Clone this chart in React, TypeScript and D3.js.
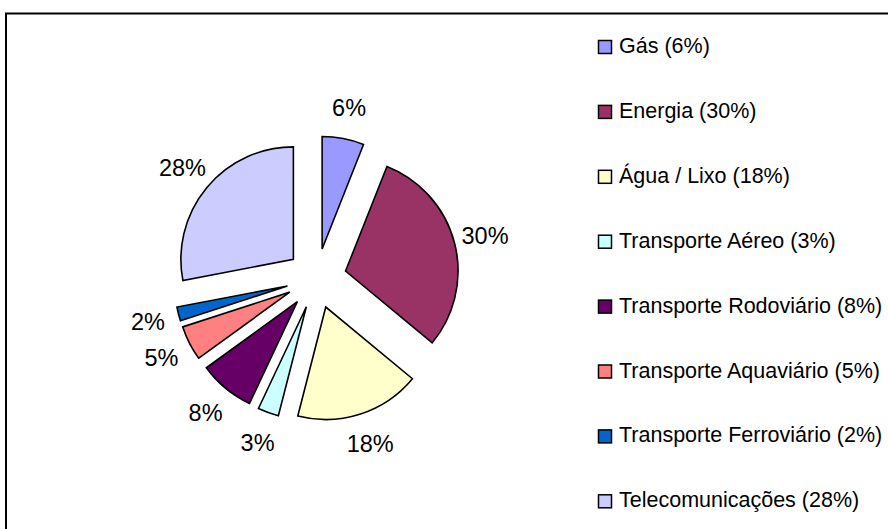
import React from "react";
import * as d3 from "d3";

const categories = [
  "Gás",
  "Energia",
  "Água / Lixo",
  "Transporte Aéreo",
  "Transporte Rodoviário",
  "Transporte Aquaviário",
  "Transporte Ferroviário",
  "Telecomunicações",
];
const values = [6, 30, 18, 3, 8, 5, 2, 28];
const colors = [
  "#9999FF",
  "#993366",
  "#FFFFCC",
  "#CCFFFF",
  "#660066",
  "#FF8080",
  "#0066CC",
  "#CCCCFF",
];

const W = 888;
const H = 529;
const cx = 316.5;
const cy = 278.5;
const radius = 112.5;
const explode = 30;
const labelR = 174;
const font = "Arial, 'Liberation Sans', sans-serif";

export default function App() {
  const total = d3.sum(values);
  const pie = d3
    .pie<number>()
    .sort(null)
    .value((d) => d)
    .startAngle(0)
    .endAngle(2 * Math.PI);
  const arcs = pie(values);
  const arcGen = d3.arc<d3.PieArcDatum<number>>().innerRadius(0).outerRadius(radius);

  const legendX = 598;
  const legendY0 = 53;
  const legendStep = 64.9;

  return (
    <svg
      width={W}
      height={H}
      style={{ position: "absolute", left: 0, top: 0, background: "#fff" }}
    >
      <rect x={0} y={0} width={W} height={H} fill="#fff" />
      <rect
        x={6}
        y={13.5}
        width={W + 20}
        height={H + 20}
        fill="none"
        stroke="#000"
        strokeWidth={2}
      />
      <g transform={`translate(${cx},${cy})`}>
        {arcs.map((a, i) => {
          const m = (a.startAngle + a.endAngle) / 2;
          const dx = explode * Math.sin(m);
          const dy = -explode * Math.cos(m);
          return (
            <path
              key={i}
              d={arcGen(a) || ""}
              transform={`translate(${dx},${dy})`}
              fill={colors[i]}
              stroke="#000"
              strokeWidth={1.6}
              strokeLinejoin="miter"
            />
          );
        })}
        {arcs.map((a, i) => {
          const m = (a.startAngle + a.endAngle) / 2;
          const x = labelR * Math.sin(m);
          const y = -labelR * Math.cos(m);
          return (
            <text
              key={i}
              x={x}
              y={y + 8.5}
              textAnchor="middle"
              fontFamily={font}
              fontSize={23.5}
              fill="#000"
            >
              {`${Math.round((values[i] / total) * 100)}%`}
            </text>
          );
        })}
      </g>
      <g>
        {categories.map((c, i) => {
          const by = legendY0 + i * legendStep;
          return (
            <g key={i}>
              <rect
                x={legendX + 0.5}
                y={by - 12.5}
                width={13}
                height={13}
                fill={colors[i]}
                stroke="#000"
                strokeWidth={1.5}
              />
              <text x={619} y={by} fontFamily={font} fontSize={21.5} fill="#000">
                {`${c} (${Math.round((values[i] / total) * 100)}%)`}
              </text>
            </g>
          );
        })}
      </g>
    </svg>
  );
}
